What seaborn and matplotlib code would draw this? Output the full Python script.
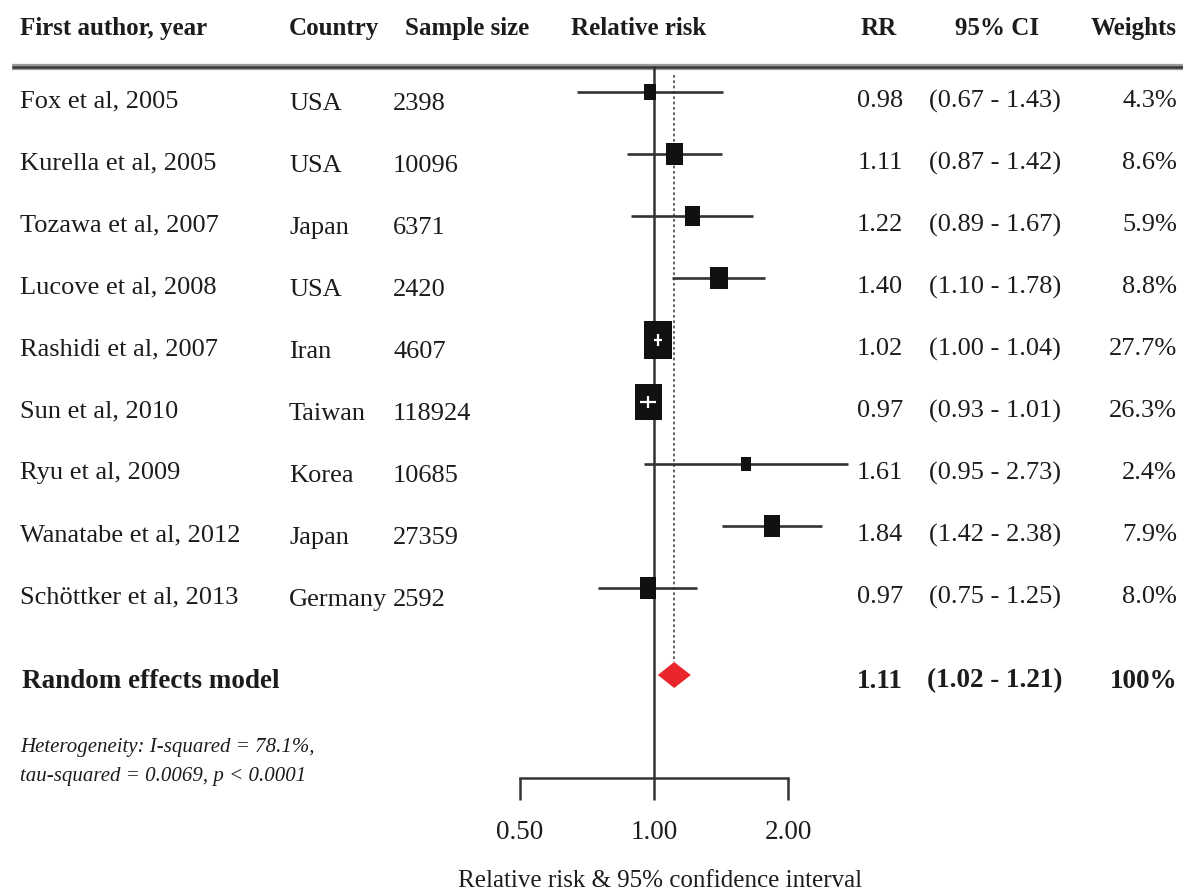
import numpy as np
import pandas as pd
import matplotlib
matplotlib.use("Agg")
import matplotlib.pyplot as plt
from matplotlib.ticker import NullLocator, FixedLocator, FixedFormatter
from matplotlib.transforms import blended_transform_factory
import seaborn as sns

# ---- study data -------------------------------------------------------
authors = ["Fox et al, 2005", "Kurella et al, 2005", "Tozawa et al, 2007",
           "Lucove et al, 2008", "Rashidi et al, 2007", "Sun et al, 2010",
           "Ryu et al, 2009", "Wanatabe et al, 2012", "Schöttker et al, 2013"]
countries = ["USA", "USA", "Japan", "USA", "Iran", "Taiwan", "Korea",
             "Japan", "Germany"]
sample_sizes = ["2398", "10096", "6371", "2420", "4607", "118924", "10685",
                "27359", "2592"]
rr = [0.98, 1.11, 1.22, 1.40, 1.02, 0.97, 1.61, 1.84, 0.97]
ci_low = [0.67, 0.87, 0.89, 1.10, 1.00, 0.93, 0.95, 1.42, 0.75]
ci_high = [1.43, 1.42, 1.67, 1.78, 1.04, 1.01, 2.73, 2.38, 1.25]
weights = [4.3, 8.6, 5.9, 8.8, 27.7, 26.3, 2.4, 7.9, 8.0]

pooled_rr = 1.11
pooled_low = 1.02
pooled_high = 1.21
pooled_label = "Random effects model"
heterogeneity = ["Heterogeneity: I-squared = 78.1%,",
                 "tau-squared = 0.0069, p < 0.0001"]

x_ticks = [0.5, 1.0, 2.0]
x_tick_labels = ["0.50", "1.00", "2.00"]
x_label = "Relative risk & 95% confidence interval"

df = pd.DataFrame({"author": authors, "country": countries, "n": sample_sizes,
                   "rr": rr, "lo": ci_low, "hi": ci_high, "w": weights})
df["row"] = np.arange(len(df))

# ---- figure / layout ----------------------------------------------------
sns.set_theme(style="white")
plt.rcParams["font.family"] = ["Liberation Serif", "DejaVu Serif"]
INK = "#1c1c1c"
LINE = "#333333"

W, H = 1183, 896
axis_px = 778          # pixel row of the x axis
row0_px, step_px = 92, 62
px_per_doubling = 134
one_px = 654           # pixel column of RR = 1

fig = plt.figure(figsize=(W / 100, H / 100), dpi=100)
ax = fig.add_axes([0, (H - axis_px) / H, 1, axis_px / H])
ax.set_xscale("log", base=2)
ax.set_xlim(2 ** (-one_px / px_per_doubling),
            2 ** ((W - one_px) / px_per_doubling))
ax.set_ylim((axis_px - row0_px) / step_px, -row0_px / step_px)


def prow(px):
    """pixel row -> data row"""
    return (px - row0_px) / step_px


tr = blended_transform_factory(ax.transAxes, ax.transData)

# axis styling
for side in ["top", "left", "right"]:
    ax.spines[side].set_visible(False)
ax.spines["bottom"].set_bounds(x_ticks[0], x_ticks[-1])
ax.spines["bottom"].set_color(LINE)
ax.spines["bottom"].set_linewidth(1.8)
ax.xaxis.set_major_locator(FixedLocator(x_ticks))
ax.xaxis.set_major_formatter(FixedFormatter(x_tick_labels))
ax.xaxis.set_minor_locator(NullLocator())
ax.set_yticks([])
ax.tick_params(axis="x", bottom=True, direction="out", length=16, width=1.8,
               color=LINE, pad=14, labelsize=19.5, labelcolor=INK)
ax.set_xlabel(x_label, fontsize=18, color=INK)
ax.xaxis.set_label_coords(660 / W, -(870 - axis_px) / axis_px)

# header rule
header_rule = prow(67)
ax.plot([12 / W, 1], [header_rule, header_rule], transform=tr,
        color="#9a9a9a", lw=4.5, solid_capstyle="butt", zorder=1)
ax.plot([12 / W, 1], [header_rule, header_rule], transform=tr,
        color="#3a3a3a", lw=1.8, solid_capstyle="butt", zorder=2)

# line of no effect and pooled estimate line
ax.plot([1.0, 1.0], [header_rule, ax.get_ylim()[0]], color=LINE, lw=1.8,
        zorder=2)
pooled_row = prow(675)
dh = 13 / step_px
ax.plot([pooled_rr, pooled_rr], [prow(75), pooled_row - dh], color="#444444",
        lw=1.2, ls=(0, (1.6, 1.6)), zorder=2)

# confidence intervals
ax.hlines(df["row"], df["lo"], df["hi"], color=LINE, lw=1.9, zorder=3)

# weight boxes (slightly taller than wide)
box = [(-0.75, -1), (0.75, -1), (0.75, 1), (-0.75, 1), (-0.75, -1)]
box_width_px = 6.9 * df["w"] ** 0.42
box_height_pt = box_width_px * 1.33 * 0.72
sns.scatterplot(data=df, x="rr", y="row", s=box_height_pt ** 2, marker=box,
                color="#111111", edgecolor="none", linewidth=0, ax=ax,
                legend=False, zorder=4)

# white CI inside boxes that are wider than their interval
fig.canvas.draw()
for _, r in df.iterrows():
    x_lo, _ = ax.transData.transform((r["lo"], r["row"]))
    x_hi, _ = ax.transData.transform((r["hi"], r["row"]))
    half_box = 6.9 * r["w"] ** 0.42 / 2
    x_c, _ = ax.transData.transform((r["rr"], r["row"]))
    if x_lo > x_c - half_box and x_hi < x_c + half_box:
        ax.hlines(r["row"], r["lo"], r["hi"], color="white", lw=1.6, zorder=5)
        ax.plot([r["rr"]], [r["row"]], marker="|", ms=8, mew=1.6,
                color="white", zorder=5)

# pooled diamond
ax.fill([pooled_low, pooled_rr, pooled_high, pooled_rr],
        [pooled_row, pooled_row - dh, pooled_row, pooled_row + dh],
        color="#e8262b", lw=0, zorder=4)

# ---- table text ---------------------------------------------------------
body = dict(fontsize=19, color=INK, va="center", transform=tr)
head = dict(fontsize=18, color=INK, va="center", fontweight="bold",
            transform=tr)

hy = prow(28)
ax.text(20 / W, hy, "First author, year", ha="left", **head)
ax.text(289 / W, hy, "Country", ha="left", **head)
ax.text(405 / W, hy, "Sample size", ha="left", **head)
ax.text(571 / W, hy, "Relative risk", ha="left", **head)
ax.text(879 / W, hy, "RR", ha="center", **head)
ax.text(997 / W, hy, "95% CI", ha="center", **head)
ax.text(1177 / W, hy, "Weights", ha="right", **head)

for _, r in df.iterrows():
    y_txt = r["row"] + 0.15
    y_col = r["row"] + 0.19
    ax.text(20 / W, y_txt, r["author"], ha="left", **body)
    ax.text(289 / W, y_col, r["country"], ha="left", **body)
    ax.text(393 / W, y_col, r["n"], ha="left", **body)
    ax.text(903 / W, y_txt, f"{r['rr']:.2f}", ha="right", **body)
    ax.text(995 / W, y_txt, f"({r['lo']:.2f} - {r['hi']:.2f})", ha="center",
            **body)
    ax.text(1177 / W, y_txt, f"{r['w']:.1f}%", ha="right", **body)

bold_body = dict(body, fontsize=19.5, fontweight="bold")
py = prow(681)
ax.text(22 / W, py, pooled_label, ha="left", **bold_body)
ax.text(903 / W, py, f"{pooled_rr:.2f}", ha="right", **bold_body)
ax.text(995 / W, py, f"({pooled_low:.2f} - {pooled_high:.2f})", ha="center",
        **bold_body)
ax.text(1177 / W, py, "100%", ha="right", **bold_body)

ax.text(20 / W, prow(747), heterogeneity[0], ha="left", fontsize=15,
        style="italic", color=INK, va="center", transform=tr)
ax.text(20 / W, prow(776), heterogeneity[1], ha="left", fontsize=15,
        style="italic", color=INK, va="center", transform=tr)

fig.savefig("out.png", dpi=100, facecolor="white")
